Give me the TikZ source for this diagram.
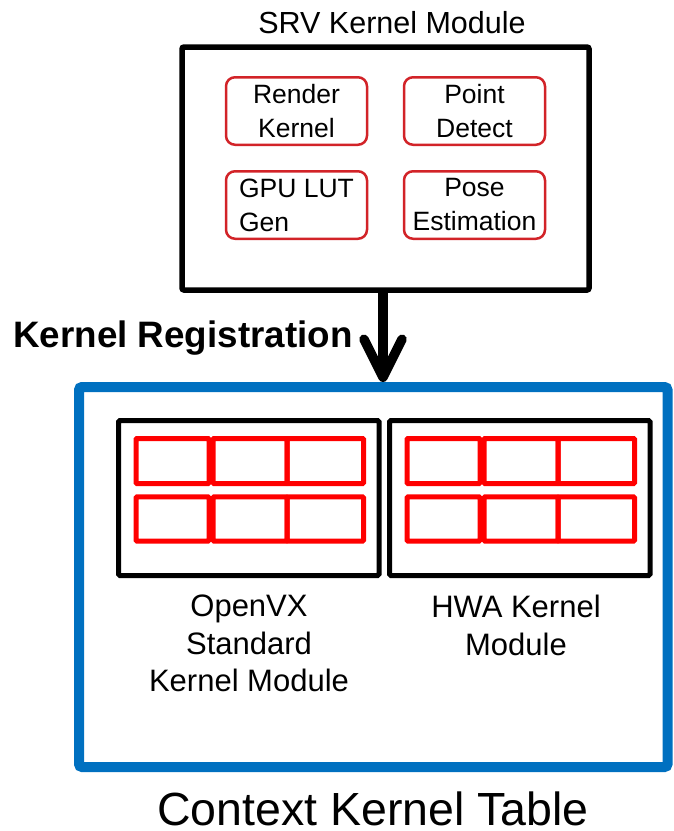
\documentclass[tikz,border=0pt]{standalone}
\usepackage{fontspec}
\setmainfont{Liberation Sans}
\usetikzlibrary{arrows.meta}
\definecolor{modred}{RGB}{210,35,40}
\definecolor{cellred}{RGB}{255,0,0}
\definecolor{tableblue}{RGB}{0,112,192}
\begin{document}
\begin{tikzpicture}[x=1pt,y=-1pt,
  kbox/.style={draw=modred,line width=2.5pt,rounded corners=9pt,
    minimum width=141pt,minimum height=67.5pt,inner sep=0pt,align=center,
    font=\fontsize{26.5}{34}\selectfont},
  modbox/.style={draw=black,line width=5pt,rounded corners=1.5pt,
    minimum width=260.5pt,minimum height=155pt,inner sep=0pt},
  cell/.style={draw=cellred,line width=5pt,rounded corners=1pt},
  caption/.style={inner sep=0pt,align=center,font=\fontsize{31}{37.5}\selectfont},
  regarrow/.style={line width=9.5pt,-{Straight Barb[length=38pt,width=38pt,round]}}
]
\useasboundingbox (0,0) rectangle (673,831);

% SRV kernel module with its four kernels
\node[draw=black,line width=5.5pt,rounded corners=2pt,minimum width=407pt,
  minimum height=243pt,inner sep=0pt] (srv) at (385.5,168.5) {};
\node[anchor=base,inner sep=0pt,font=\fontsize{30.5}{36}\selectfont] (srvtitle)
  at (392,33) {SRV Kernel Module};
\node[kbox] (render) at (296.5,111) {Render\\Kernel};
\node[kbox] (point) at (474.5,111) {Point\\Detect};
\node[kbox,align=left] (lut) at (296.5,205) {GPU LUT\\Gen};
\node[kbox] (pose) at (474.5,205) {Pose\\Estimation};

% context kernel table
\node[draw=tableblue,line width=10pt,rounded corners=3pt,minimum width=588.5pt,
  minimum height=380pt,inner sep=0pt] (ctx) at (373.25,577) {};
\node[anchor=base,inner sep=0pt,font=\fontsize{46.5}{56}\selectfont] (ctxtitle)
  at (373,825) {Context Kernel Table};

% registered kernel modules
\node[modbox] (ovx) at (248.75,498) {};
\node[modbox] (hwa) at (519.75,498) {};
\foreach \dx in {0,271}{
  \foreach \ya/\yb in {438.5/483.5,496.8/541}{
    \draw[cell] (136+\dx,\ya) rectangle (209+\dx,\yb);
    \draw[cell] (213+\dx,\ya) rectangle (287+\dx,\yb);
    \draw[cell] (287+\dx,\ya) rectangle (363.5+\dx,\yb);
  }
}
\node[caption,anchor=north] (ovxlabel) at (249,595)
  {OpenVX\\Standard\\Kernel Module};
\node[caption,anchor=north] (hwalabel) at (516,595) {HWA Kernel\\Module};

% registration arrow
\draw[regarrow] ([xshift=-2.5pt]srv.south) -- ([xshift=-2.5pt]srv.south |- ctx.north);
\node[anchor=base west,inner sep=0pt,font=\bfseries\fontsize{36.8}{43}\selectfont]
  (reg) at (13,347) {Kernel Registration};
\end{tikzpicture}
\end{document}
